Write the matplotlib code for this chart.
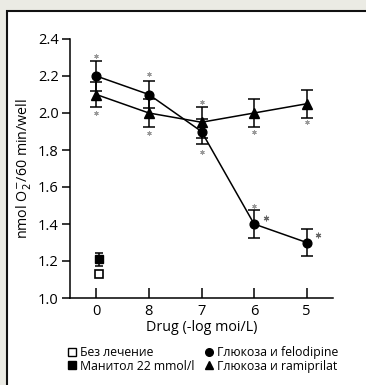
import matplotlib.pyplot as plt
from matplotlib.patches import Rectangle
from matplotlib.lines import Line2D

plt.rcParams['font.family'] = ['Open Sans', 'DejaVu Sans']

# data
doses = ["0", "8", "7", "6", "5"]
felodipine = [2.2, 2.1, 1.9, 1.4, 1.3]
felodipine_err = [0.08, 0.075, 0.07, 0.075, 0.075]
ramiprilat = [2.1, 2.0, 1.95, 2.0, 2.05]
ramiprilat_err = [0.07, 0.075, 0.085, 0.075, 0.075]
no_treat = 1.13
mannitol = 1.21
mannitol_err = 0.035

# significance marks (y values)
star_above = [2.31, 2.21, 2.06, 1.50]
star_below = [2.00, 1.89, 1.79, 1.90, 1.95]
star_right = [1.43, 1.34]

fig = plt.figure(figsize=(3.66, 3.85), dpi=100, facecolor="#ebebe4")
fig.patches.append(Rectangle((7.5 / 366, -0.05), 1.1, 1 - 11 / 385 + 0.05,
                             transform=fig.transFigure, facecolor="white",
                             edgecolor="#111111", linewidth=1.5, zorder=-1))

ax = fig.add_axes([70 / 366, 1 - 298 / 385, 263 / 366, 259 / 385])
ax.set_facecolor("none")
x = list(range(len(doses)))

ax.errorbar(x, felodipine, yerr=felodipine_err, color="black", marker="o",
            markersize=6.3, lw=1.1, capsize=4, elinewidth=1.1, capthick=1.1, zorder=3)
ax.errorbar(x, ramiprilat, yerr=ramiprilat_err, color="black", marker="^",
            markersize=6.8, lw=1.1, capsize=4, elinewidth=1.1, capthick=1.1, zorder=3)
ax.errorbar([0.05], [mannitol], yerr=[mannitol_err], color="black", marker="s",
            markersize=5.5, capsize=3, elinewidth=1.1, capthick=1.1, ls="none")
ax.plot([0.05], [no_treat], marker="s", markersize=5.5, markerfacecolor="white",
        markeredgecolor="black", markeredgewidth=1.2, ls="none")

ast = (6, 2, 0)
ax.scatter(x[:4], star_above, marker=ast, s=7, color="#999999", lw=0.7)
ax.scatter(x, star_below, marker=ast, s=7, color="#999999", lw=0.7)
ax.scatter([3.22, 4.22], star_right, marker=ast, s=12, color="#666666", lw=0.8)

ax.set_xlim(-0.5, 4.5)
ax.set_ylim(1.0, 2.4)
ax.set_xticks(x)
ax.set_xticklabels(doses)
ax.set_yticks([1.0, 1.2, 1.4, 1.6, 1.8, 2.0, 2.2, 2.4])
ax.tick_params(axis="x", direction="in", length=7, width=1.1, labelsize=10.5, pad=4)
ax.tick_params(axis="y", direction="out", length=6, width=1.1, labelsize=10.5, pad=2)
for s in ["top", "right"]:
    ax.spines[s].set_visible(False)
for s in ["left", "bottom"]:
    ax.spines[s].set_linewidth(1.1)

ax.set_xlabel("Drug (-log moi/L)", fontsize=10.3, labelpad=1)
ax.set_ylabel("nmol O$_2^{-}$/60 min/well", fontsize=10.3, labelpad=4)

handles = [
    Line2D([], [], marker="s", ls="none", markerfacecolor="white",
           markeredgecolor="black", markersize=5.5),
    Line2D([], [], marker="s", ls="none", color="black", markersize=5.5),
    Line2D([], [], marker="o", ls="none", color="black", markersize=5.5),
    Line2D([], [], marker="^", ls="none", color="black", markersize=5.5),
]
labels = ["Без лечение", "Манитол 22 mmol/l", "Глюкоза и felodipine", "Глюкоза и ramiprilat"]
fig.legend(handles, labels, loc="upper left", bbox_to_anchor=(62 / 366, 1 - 340 / 385),
           ncol=2, frameon=False, fontsize=8.8, handlelength=0.7, handletextpad=0.3,
           columnspacing=0.8, labelspacing=0.05, borderpad=0)

fig.savefig("out.png", dpi=100, facecolor=fig.get_facecolor())
